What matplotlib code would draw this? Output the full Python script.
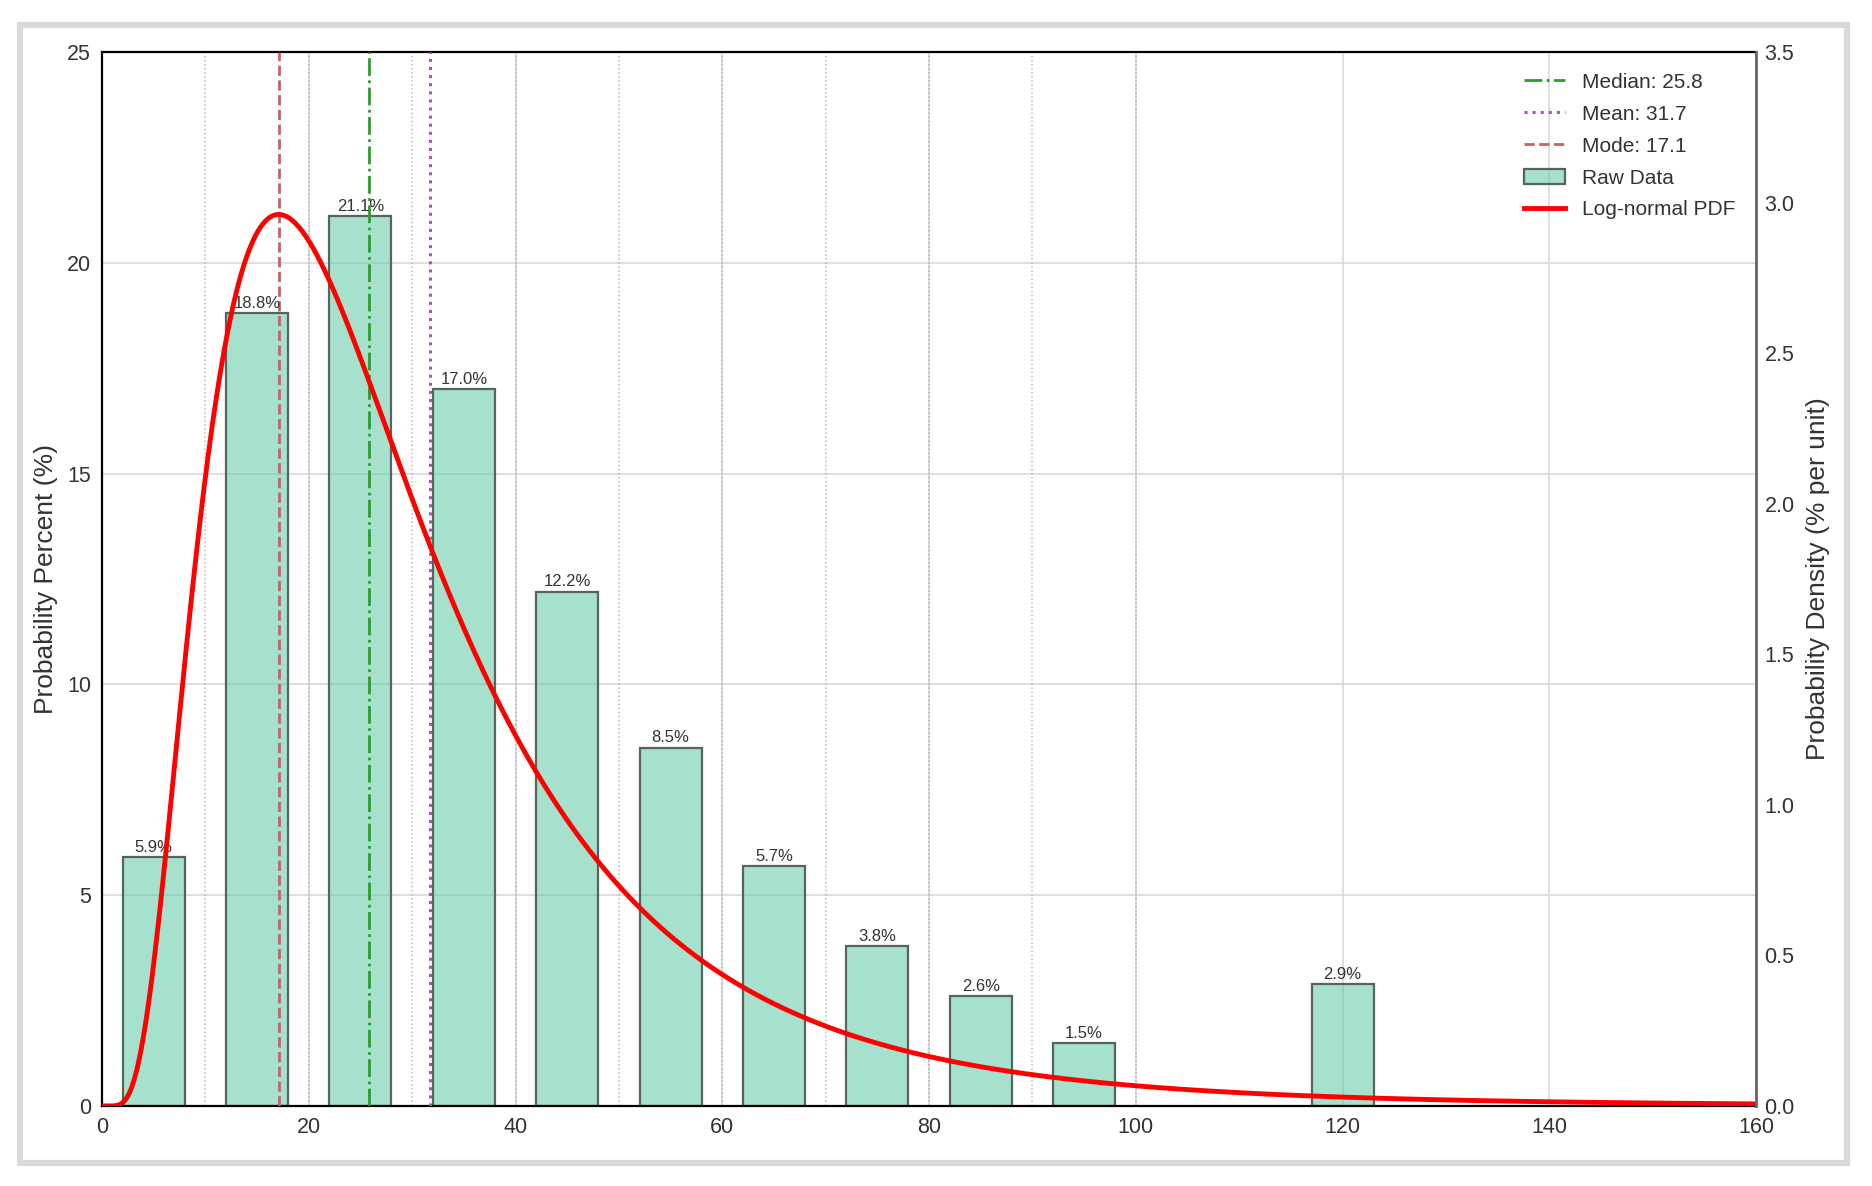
import numpy as np
import matplotlib
matplotlib.use("Agg")
import matplotlib.pyplot as plt
from matplotlib.patches import Rectangle, Patch
from matplotlib.lines import Line2D

plt.rcParams['font.family'] = ['Liberation Sans', 'DejaVu Sans']

# binned raw data (percent per bin), last bin is the 100+ tail shown at 120
bin_centers = [5, 15, 25, 35, 45, 55, 65, 75, 85, 95, 120]
bin_percent = [5.9, 18.8, 21.1, 17.0, 12.2, 8.5, 5.7, 3.8, 2.6, 1.5, 2.9]
bin_edges = [0, 10, 20, 30, 40, 50, 60, 70, 80, 90, 100]

# summary stats from the legend
median_val = 25.8
mean_val = 31.7
mode_val = 17.1

x_ticks = [0, 20, 40, 60, 80, 100, 120, 140, 160]
y_ticks = [0, 5, 10, 15, 20, 25]
y2_ticks = [0.0, 0.5, 1.0, 1.5, 2.0, 2.5, 3.0, 3.5]

# log-normal fitted from median and mean
mu = np.log(median_val)
sigma = np.sqrt(2 * np.log(mean_val / median_val))
xs = np.linspace(0.01, 160, 1200)
pdf = 100 * np.exp(-(np.log(xs) - mu) ** 2 / (2 * sigma ** 2)) / (xs * sigma * np.sqrt(2 * np.pi))

fig = plt.figure(figsize=(18.72, 11.86), dpi=100)
ax1 = fig.add_axes([0.0545, 0.0675, 0.8836, 0.8887])
ax2 = ax1.twinx()

# grid + bin edge markers
ax1.grid(True, color='#dcdcdc', lw=1.3, zorder=0)
ax1.set_axisbelow(True)
for e in bin_edges:
    ax1.axvline(e, color='#a0a0a0', ls=':', lw=1.1, alpha=0.7, zorder=1)

bars = ax1.bar(bin_centers, bin_percent, width=6,
               facecolor=(0.4, 0.8, 0.667, 0.58), edgecolor='#56645f',
               linewidth=1.6, zorder=2)
for xc, v in zip(bin_centers, bin_percent):
    ax1.text(xc, v + 0.05, f"{v:.1f}%", ha='center', va='bottom',
             fontsize=12, color='#333333', zorder=5)

ax1.axvline(median_val, color='#2f9a2f', ls='-.', lw=2, zorder=4)
ax1.axvline(mean_val, color='#b24cc0', ls=':', lw=2.2, zorder=4)
ax1.axvline(mode_val, color='#c06464', ls='--', lw=2, zorder=4)

ax2.plot(xs, pdf, color='red', lw=3.5)

ax1.set_xlim(0, 160)
ax1.set_ylim(0, 25)
ax2.set_ylim(0, 3.5)
ax1.set_xticks(x_ticks)
ax1.set_yticks(y_ticks)
ax2.set_yticks(y2_ticks)
ax2.set_yticklabels([f"{t:.1f}" for t in y2_ticks])

ax1.tick_params(axis='both', length=0, labelsize=15.5, colors='#333333', pad=8)
ax2.tick_params(axis='y', length=0, labelsize=15.5, colors='#333333', pad=6)

ax1.set_ylabel('Probability Percent (%)', fontsize=19, color='#333333', labelpad=6)
ax2.set_ylabel('Probability Density (% per unit)', fontsize=19, color='#333333', labelpad=8)

for s in ['left', 'bottom', 'top']:
    ax1.spines[s].set_color('black')
    ax1.spines[s].set_linewidth(1.6)
ax1.spines['right'].set_visible(False)
for s in ['left', 'bottom', 'top']:
    ax2.spines[s].set_visible(False)
ax2.spines['right'].set_color('#666666')
ax2.spines['right'].set_linewidth(2)

handles = [
    Line2D([], [], color='#2f9a2f', ls='-.', lw=2),
    Line2D([], [], color='#b24cc0', ls=':', lw=2.2),
    Line2D([], [], color='#c06464', ls='--', lw=2),
    Patch(facecolor=(0.4, 0.8, 0.667, 0.58), edgecolor='#56645f', linewidth=1.6),
    Line2D([], [], color='red', lw=3.5),
]
labels = [f'Median: {median_val}', f'Mean: {mean_val}', f'Mode: {mode_val}',
          'Raw Data', 'Log-normal PDF']
leg = ax2.legend(handles, labels, loc='upper right', frameon=False, fontsize=15,
                 labelspacing=0.62, borderaxespad=0.6)
for t in leg.get_texts():
    t.set_color('#333333')

# light gray frame around the whole figure
fig.patches.append(Rectangle((0.0107, 0.019), 0.9757, 0.9595, transform=fig.transFigure,
                             fill=False, edgecolor='#d9d9d9', lw=4.5))

fig.savefig('out.png', dpi=100)
